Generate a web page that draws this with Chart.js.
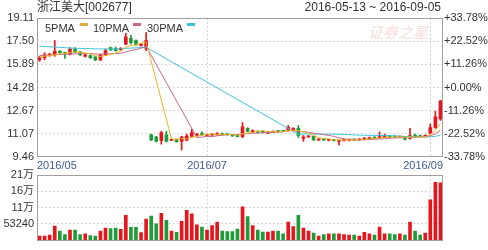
<!DOCTYPE html>
<html><head><meta charset="utf-8">
<script src="https://cdn.jsdelivr.net/npm/chart.js@4/dist/chart.umd.min.js"></script>
<style>
body{margin:0;background:#fff;}
#wrap{position:relative;width:488px;height:250px;overflow:hidden;font-family:"Liberation Sans",Arial,"Noto Sans CJK SC",sans-serif;}
.t{position:absolute;white-space:nowrap;}
.sw{position:absolute;width:8px;height:3px;}
</style></head><body>
<div id="wrap">
<canvas id="pc" width="488" height="170" style="position:absolute;left:0;top:0"></canvas>
<canvas id="vc" width="488" height="85" style="position:absolute;left:0;top:165px"></canvas>
<div class="t" style="left:37px;top:0px;font-size:12px;line-height:14px;color:#333">浙江美大[002677]</div>
<div class="t" style="right:47px;top:0px;font-size:12px;line-height:14px;color:#333">2016-05-13 ~ 2016-09-05</div>
<div class="t" style="left:368px;top:24px;font-size:15px;line-height:16px;color:rgba(225,90,90,0.22);font-family:'Noto Sans CJK SC';font-style:italic">证券之星</div>
<div class="t" style="left:45px;top:22px;font-size:11px;line-height:12px;color:#333">5PMA</div>
<div class="sw" style="left:80px;top:23px;background:#d9b040"></div>
<div class="t" style="left:93px;top:22px;font-size:11px;line-height:12px;color:#333">10PMA</div>
<div class="sw" style="left:133px;top:23px;background:#c8688e"></div>
<div class="t" style="left:147px;top:22px;font-size:11px;line-height:12px;color:#333">30PMA</div>
<div class="sw" style="left:187px;top:23px;background:#3cc4d8"></div>
</div>
<script>
const mayDays=[13,16,17,18,19,20,23,24,25,26,27,30,31];
const junDays=[1,2,3,6,7,8,13,14,15,16,17,20,21,22,23,24,27,28,29,30];
const julDays=[1,4,5,6,7,8,11,12,13,14,15,18,19,20,21,22,25,26,27,28,29];
const augDays=[1,2,3,4,5,8,9,10,11,12,15,16,17,18,19,22,23,24,25,26,29,30,31];
const sepDays=[1,2,5];

const opens=[16.20,16.35,16.50,16.55,16.80,16.70,16.60,16.95,16.75,16.45,16.50,16.40,16.20,16.55,17.05,17.00,16.90,17.30,17.70,17.55,17.20,17.00,
11.00,10.85,10.60,11.00,10.62,10.68,10.55,10.62,10.90,10.95,11.10,10.95,10.98,11.00,11.08,11.05,11.00,10.98,10.88,11.45,11.20,11.25,11.22,11.12,11.18,11.26,11.28,11.30,11.35,11.45,10.75,10.85,10.90,10.64,10.68,10.62,10.64,10.55,10.60,10.62,10.68,10.64,10.68,10.74,10.82,10.80,10.86,10.90,10.88,10.84,10.88,10.75,10.98,10.92,10.90,11.10,11.50,12.10];
const closes=[16.35,16.55,16.60,16.80,16.70,16.60,16.95,16.75,16.55,16.55,16.35,16.20,16.55,16.85,16.90,16.85,17.00,17.80,17.40,17.25,17.30,17.55,
10.65,10.55,11.15,10.55,10.66,10.52,10.85,10.92,11.15,11.05,11.00,11.02,11.04,11.08,11.02,11.00,10.92,10.88,11.55,11.25,11.30,11.18,11.18,11.20,11.24,11.22,11.24,11.52,11.45,10.95,10.85,10.92,10.65,10.68,10.64,10.66,10.60,10.62,10.64,10.66,10.64,10.70,10.76,10.80,10.78,10.88,10.90,10.84,10.84,10.88,10.70,10.95,10.85,10.88,10.96,11.50,12.25,13.35];
const highs=[16.45,16.70,16.65,17.55,16.85,16.75,17.05,17.05,16.80,16.60,16.55,16.45,16.60,16.95,17.10,17.10,17.05,18.05,17.90,17.60,17.35,18.10,
11.05,10.90,11.25,11.25,10.72,10.72,10.90,11.05,11.40,11.10,11.20,11.06,11.08,11.15,11.12,11.08,11.03,11.00,11.85,11.50,11.35,11.28,11.25,11.25,11.28,11.30,11.32,11.65,11.50,11.65,10.95,10.95,10.92,10.72,10.70,10.70,10.66,10.66,10.68,10.70,10.70,10.74,10.82,10.84,10.86,11.20,11.05,10.95,10.92,10.92,10.90,11.45,11.05,10.98,11.00,11.75,12.65,13.40];
const lows=[16.10,16.20,16.45,16.45,16.65,16.30,16.55,16.70,16.50,16.40,16.30,16.15,16.15,16.50,16.85,16.80,16.85,17.25,17.30,17.20,17.15,16.85,
10.60,10.50,10.35,10.50,10.58,10.48,9.95,10.58,10.85,10.92,10.95,10.92,10.95,10.98,10.98,10.97,10.90,10.85,10.80,11.20,11.15,11.12,11.15,11.08,11.15,11.18,11.20,11.25,11.30,10.80,10.55,10.82,10.60,10.60,10.60,10.58,10.56,10.30,10.56,10.58,10.60,10.60,10.64,10.70,10.74,10.76,10.84,10.80,10.80,10.80,10.62,10.70,10.80,10.84,10.86,11.05,11.45,12.00];
const volumes=[14000,14000,17000,46000,30500,19000,33000,33000,19000,21000,16000,14000,30500,40000,38000,40000,36000,81000,42000,42000,25000,69000,
79000,53500,88000,65000,30500,26000,62000,97000,86000,50500,43000,33000,48000,59000,30500,28700,28700,37000,109000,77000,
48000,33000,27000,27000,30500,30500,21000,59000,45000,81000,40000,30500,24000,14000,19000,21000,21000,21000,19000,17000,17000,14000,26000,21000,17000,43000,21000,21000,19000,21000,17000,59000,30500,17000,24000,131000,188000,186000];
const ma5=[16.40,16.45,16.50,16.55,16.60,16.65,16.73,16.76,16.71,16.68,16.63,16.48,16.44,16.50,16.57,16.67,16.83,17.08,17.19,17.26,17.35,17.46,
null,null,null,null,10.71,10.69,10.75,10.70,10.82,10.90,10.99,11.03,11.05,11.04,11.03,11.03,11.01,10.98,11.07,11.12,11.18,11.23,11.29,11.22,11.22,11.20,11.22,11.28,11.33,11.28,11.20,11.14,10.96,10.81,10.75,10.71,10.65,10.64,10.63,10.64,10.63,10.65,10.68,10.71,10.74,10.78,10.82,10.84,10.84,10.86,10.83,10.84,10.84,10.85,10.87,11.03,11.29,11.79];
const ma10=[16.50,16.52,16.54,16.56,16.58,16.60,16.61,16.62,16.63,16.64,16.64,16.61,16.60,16.61,16.63,16.65,16.66,16.76,16.85,16.92,17.01,17.15,
null,null,null,null,null,null,null,null,null,10.81,10.84,10.89,10.88,10.93,10.97,11.01,11.02,11.02,11.06,11.08,11.11,11.12,11.14,11.15,11.17,11.19,11.22,11.29,11.28,11.25,11.20,11.18,11.12,11.07,11.01,10.96,10.89,10.80,10.72,10.69,10.67,10.65,10.66,10.67,10.69,10.71,10.74,10.76,10.78,10.80,10.81,10.83,10.84,10.85,10.87,10.93,11.07,11.32];
const ma30=[17.15,17.13,17.11,17.09,17.07,17.05,17.03,17.01,17.00,16.99,16.98,16.97,16.96,16.96,16.96,16.97,16.98,17.00,17.02,17.04,17.06,17.08,
null,null,null,null,null,null,null,null,null,null,null,null,null,null,null,null,null,null,null,null,null,null,null,null,null,null,null,null,null,11.04,11.05,11.06,11.05,11.05,11.05,11.05,11.05,11.04,11.02,11.01,10.99,10.98,10.97,10.96,10.96,10.95,10.95,10.95,10.93,10.91,10.89,10.89,10.87,10.86,10.85,10.86,10.90,10.96];

const priceTicks=[9.46,11.07,12.67,14.28,15.89,17.50,19.11];
const pctLabels=['-33.78%','-22.52%','-11.26%','+0.00%','+11.26%','+22.52%','+33.78%'];
const volTicks=[0,53240,106480,159720,212960];
const volLabels=['','53240','11万','16万','21万'];
const monthLabels=['2016/05','2016/07','2016/09'];
const monthKeys=['2016-05','2016-07','2016-09'];

const pad=d=>(d<10?'0':'')+d;
const dates=[].concat(
  mayDays.map(d=>'2016-05-'+pad(d)), junDays.map(d=>'2016-06-'+pad(d)),
  julDays.map(d=>'2016-07-'+pad(d)), augDays.map(d=>'2016-08-'+pad(d)),
  sepDays.map(d=>'2016-09-'+pad(d)));
const monthIdx=monthKeys.map(k=>dates.findIndex(d=>d.startsWith(k)));
const gridIdx=monthIdx.slice(1);

const RED='#e5161d', GREEN='#1e9c3b';
const colorOf=c=>closes[c.dataIndex]>=opens[c.dataIndex]?RED:GREEN;
const FONT='"Liberation Sans", Arial, "Noto Sans CJK SC", sans-serif';

const frame={id:'frame',afterDraw(chart){const {ctx,chartArea:a}=chart;ctx.save();ctx.strokeStyle='#9e9e9e';ctx.lineWidth=1;
  ctx.strokeRect(Math.round(a.left)+0.5,Math.round(a.top)+0.5,Math.round(a.right-a.left)-1,Math.round(a.bottom-a.top)-1);ctx.restore();}};
const monthText={id:'monthText',afterDraw(chart){const {ctx,chartArea:a}=chart;const xs=chart.scales.x;ctx.save();
  ctx.font='11px '+FONT;ctx.fillStyle='#3d5b8c';ctx.textBaseline='middle';ctx.textAlign='left';
  monthLabels.forEach((lab,k)=>{const x=xs.getPixelForValue(monthIdx[k]);const w=ctx.measureText(lab).width;
    let l=x-w/2;l=Math.max(a.left,Math.min(a.right-w,l));ctx.fillText(lab,l,a.bottom+9);});ctx.restore();}};

const xScale={type:'category',offset:true,afterFit:s=>{s.height=0;},
  ticks:{display:false,autoSkip:false},
  grid:{offset:false,drawTicks:false,color:c=>gridIdx.includes(c.index)?'#d4d4d4':'rgba(0,0,0,0)'},
  border:{display:false,dash:[2,2]}};

new Chart(document.getElementById('pc'),{
  type:'bar',
  data:{labels:dates,datasets:[
    {type:'line',data:ma5,borderColor:'#e6b422',borderWidth:1,pointRadius:0,spanGaps:true,tension:0,order:0},
    {type:'line',data:ma10,borderColor:'#c8688e',borderWidth:1,pointRadius:0,spanGaps:true,tension:0,order:0},
    {type:'line',data:ma30,borderColor:'#3cc4d8',borderWidth:1,pointRadius:0,spanGaps:true,tension:0,order:0},
    {data:lows.map((l,i)=>[l,highs[i]]),backgroundColor:colorOf,barThickness:1,grouped:false,order:2},
    {data:opens.map((o,i)=>[o,closes[i]]),backgroundColor:colorOf,barThickness:3,minBarLength:1,grouped:false,order:1}
  ]},
  options:{responsive:false,animation:false,devicePixelRatio:1,
    layout:{padding:{top:18,bottom:13,left:0,right:0}},
    plugins:{legend:{display:false},tooltip:{enabled:false}},
    scales:{
      x:xScale,
      y:{position:'left',min:9.46,max:19.11,afterFit:s=>{s.width=37;},
        afterBuildTicks:s=>{s.ticks=priceTicks.map(v=>({value:v}));},
        ticks:{autoSkip:false,padding:3,color:'#333',font:{size:11,family:FONT},callback:v=>Number(v).toFixed(2)},
        grid:{drawTicks:false,color:c=>(c.tick&&(c.tick.value===priceTicks[0]||c.tick.value===priceTicks[priceTicks.length-1]))?'rgba(0,0,0,0)':'#d8d8d8'},
        border:{display:false,dash:[2,2]}},
      y2:{position:'right',min:9.46,max:19.11,afterFit:s=>{s.width=45;},
        afterBuildTicks:s=>{s.ticks=priceTicks.map(v=>({value:v}));},
        ticks:{autoSkip:false,padding:1,color:'#333',font:{size:11,family:FONT},callback:(v,i)=>pctLabels[i]},
        grid:{display:false,drawTicks:false},border:{display:false}}
    }},
  plugins:[frame,monthText]
});

new Chart(document.getElementById('vc'),{
  type:'bar',
  data:{labels:dates,datasets:[
    {data:volumes,backgroundColor:colorOf,barThickness:3,grouped:false}
  ]},
  options:{responsive:false,animation:false,devicePixelRatio:1,
    layout:{padding:{top:9,bottom:3,left:0,right:45}},
    plugins:{legend:{display:false},tooltip:{enabled:false}},
    scales:{
      x:xScale,
      y:{position:'left',min:0,max:212960,afterFit:s=>{s.width=37;},
        afterBuildTicks:s=>{s.ticks=volTicks.map(v=>({value:v}));},
        ticks:{autoSkip:false,padding:3,color:'#333',font:{size:11,family:FONT},callback:(v,i)=>volLabels[i]},
        grid:{drawTicks:false,color:c=>(c.tick&&(c.tick.value===0||c.tick.value===212960))?'rgba(0,0,0,0)':'#d8d8d8'},
        border:{display:false,dash:[2,2]}}
    }},
  plugins:[frame]
});
</script>
</body></html>
